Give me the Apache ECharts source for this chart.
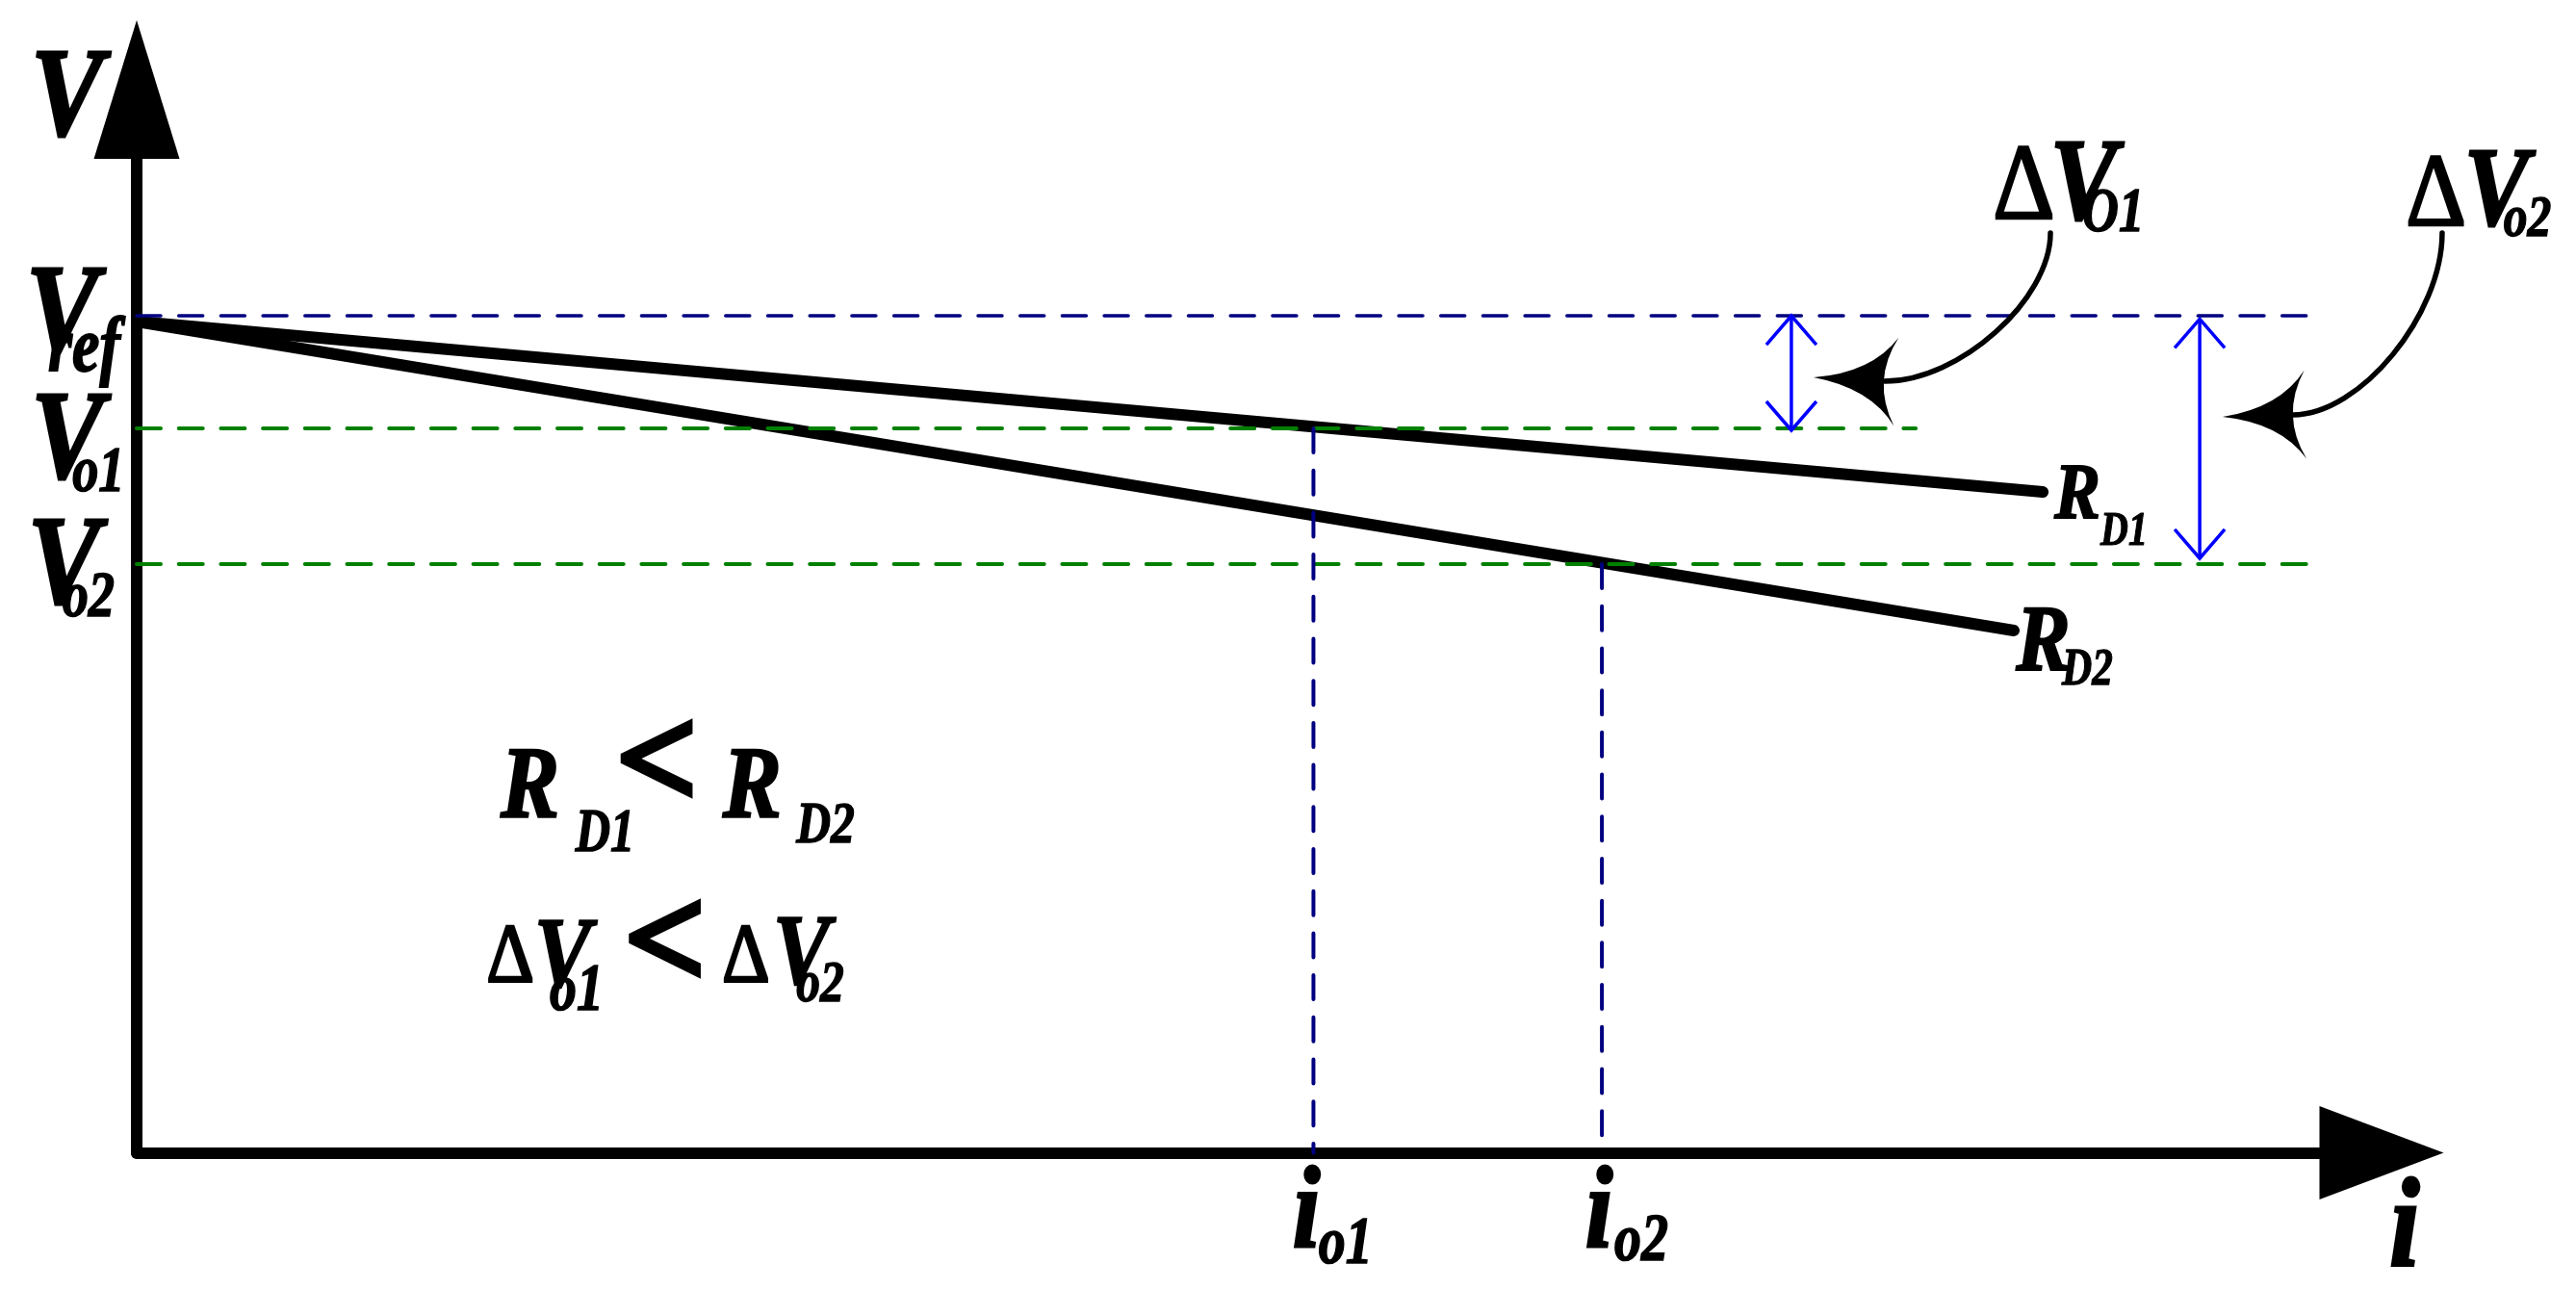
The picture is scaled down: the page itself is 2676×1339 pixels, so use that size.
<!DOCTYPE html>
<html>
<head>
<meta charset="utf-8">
<script src="https://cdn.jsdelivr.net/npm/echarts@6/dist/echarts.min.js"></script>
<style>
html,body{margin:0;padding:0;background:#ffffff;}
#chart{width:2676px;height:1339px;}
</style>
</head>
<body>
<div id="chart"></div>
<script>
// ---------- values (arbitrary units, axes 0..100) ----------
const X_MAX = 100;
const Y_MAX = 100;
const V_REF = 78.72;
const V_O1 = 68.13;
const V_O2 = 55.36;
const I_O1 = 52.42;
const I_O2 = 65.27;

const rd1Points = [[0, 78.18], [84.91, 62.15]];
const rd2Points = [[0, 78.18], [83.62, 49.12]];

const vrefGuide = [[0, V_REF], [97.34, V_REF]];
const vo1Guide = [[0, V_O1], [79.25, V_O1]];
const vo2Guide = [[0, V_O2], [97.34, V_O2]];
const io1Guide = [[I_O1, V_O1], [I_O1, 0]];
const io2Guide = [[I_O2, V_O2], [I_O2, 0]];

// double arrows: [x, top, bottom]
const deltaArrows = [[73.71, 78.72, 67.95], [91.90, 78.41, 55.91]];
// curved pointers: [startX, startY, endX, endY, tipX, tipY]
const curvedArrows = [
  [85.25, 86.51, 77.87, 72.57, 74.70, 72.93],
  [102.70, 86.51, 96.05, 69.40, 92.92, 69.22]
];

// text: [text, x, baseline y, style key]
const labelRows = [
  ['V', -3.11, 95.47, 'V131'],
  ['V', -3.32, 75.10, 'V131'],
  ['ref', -2.34, 73.65, 'S80'],
  ['V', -3.09, 63.24, 'V131'],
  ['o1', -1.70, 62.43, 'S68'],
  ['V', -3.24, 51.47, 'V131'],
  ['o2', -2.15, 50.66, 'S68'],
  ['i', 101.03, -10.82, 'V131'],
  ['i', 52.10, -9.01, 'I120'],
  ['o1', 53.85, -10.19, 'S70'],
  ['i', 65.14, -9.01, 'I120'],
  ['o2', 67.02, -10.00, 'S70'],
  ['R', 86.45, 59.71, 'R83'],
  ['D1', 88.53, 57.45, 'S50'],
  ['R', 84.93, 45.31, 'R98'],
  ['D2', 86.90, 44.32, 'S54'],
  ['Δ', 84.07, 87.78, 'D112'],
  ['V', 86.73, 87.60, 'V121'],
  ['O1', 88.04, 86.87, 'S66'],
  ['Δ', 102.42, 87.14, 'D109'],
  ['V', 105.12, 87.14, 'V117'],
  ['o2', 106.50, 86.42, 'S62'],
  ['R', 17.52, 31.55, 'R106'],
  ['D1', 20.86, 28.57, 'S63'],
  ['<', 23.18, 32.10, 'LT150'],
  ['R', 27.42, 31.55, 'R106'],
  ['D2', 30.68, 29.38, 'S62'],
  ['Δ', 16.64, 16.25, 'D77'],
  ['V', 18.98, 15.62, 'V103'],
  ['o1', 19.60, 13.54, 'S70'],
  ['<', 23.54, 15.17, 'LT150'],
  ['Δ', 27.14, 16.25, 'D77'],
  ['V', 29.61, 15.89, 'V103'],
  ['o2', 30.45, 14.44, 'S62']
];

// ---------- styles ----------
const SERIF = '"Liberation Serif", "Times New Roman", serif';
function bi(size) { return { size: size, style: 'italic', weight: 'bold', sx: 0.86, sw: 0.024 * size }; }
function sub(size) { return { size: size, style: 'italic', weight: 'bold', sx: 0.8, sw: 0.024 * size }; }
function up(size, sx, sw) { return { size: size, style: 'normal', weight: 'normal', sx: sx, sw: sw }; }
const textStyles = {
  V131: bi(131), I120: bi(120), R83: bi(83), R98: bi(98),
  V121: bi(121), V117: bi(117), R106: bi(106), V103: bi(103),
  S80: sub(80), S68: sub(68), S70: sub(70), S50: sub(50), S54: sub(54),
  S66: sub(66), S62: sub(62), S63: sub(63),
  D112: up(112, 0.9, 2.5),
  D109: up(109, 0.9, 2.5),
  D77: up(86, 0.9, 2.5),
  LT150: { size: 150, style: 'normal', weight: 'bold', sx: 1.0, sw: 5 }
};
const TEXT_SHIFT = 7;
const NAVY = '#000080', GREEN = '#008000', BLUE = '#0000ff';
const DASH = [25, 18.7];

function guide(name, data, color, width) {
  return {
    name: name, type: 'line', data: data, symbol: 'none', silent: true, clip: false,
    lineStyle: { color: color, width: width, type: DASH, cap: 'round' }, z: 3
  };
}

const chart = echarts.init(document.getElementById('chart'), null, { renderer: 'canvas' });

chart.setOption({
  animation: false,
  backgroundColor: '#ffffff',
  grid: { left: 142, right: 202, top: 93, bottom: 141.5, containLabel: false, outerBoundsMode: 'none' },
  xAxis: {
    type: 'value', min: 0, max: X_MAX,
    axisLine: { show: true, onZero: false, symbol: ['none', 'triangle'], symbolSize: [97, 129],
      lineStyle: { color: '#000', width: 12, cap: 'round' } },
    axisTick: { show: false }, axisLabel: { show: false }, splitLine: { show: false }
  },
  yAxis: {
    type: 'value', min: 0, max: Y_MAX,
    axisLine: { show: true, onZero: false, symbol: ['none', 'triangle'], symbolSize: [89, 144],
      lineStyle: { color: '#000', width: 12, cap: 'round' } },
    axisTick: { show: false }, axisLabel: { show: false }, splitLine: { show: false }
  },
  series: [
    { name: 'RD1', type: 'line', data: rd1Points, symbol: 'none', silent: true, clip: false,
      lineStyle: { color: '#000', width: 12, cap: 'round' }, z: 2 },
    { name: 'RD2', type: 'line', data: rd2Points, symbol: 'none', silent: true, clip: false,
      lineStyle: { color: '#000', width: 12, cap: 'round' }, z: 2 },
    guide('Vref', vrefGuide, NAVY, 3.5),
    guide('Vo1', vo1Guide, GREEN, 4),
    guide('Vo2', vo2Guide, GREEN, 4),
    guide('io1', io1Guide, NAVY, 4),
    guide('io2', io2Guide, NAVY, 4),
    {
      name: 'deltaArrows', type: 'custom', coordinateSystem: 'cartesian2d', silent: true, z: 4,
      data: deltaArrows,
      renderItem: function (params, api) {
        const x = api.value(0);
        const pt = api.coord([x, api.value(1)]);
        const pb = api.coord([x, api.value(2)]);
        const s = { stroke: BLUE, lineWidth: 3.5, fill: 'none' };
        const ax = 26, ay = 30;
        return {
          type: 'group',
          children: [
            { type: 'line', shape: { x1: pt[0], y1: pt[1], x2: pb[0], y2: pb[1] }, style: s },
            { type: 'polyline', shape: { points: [[pt[0] - ax, pt[1] + ay], [pt[0], pt[1]], [pt[0] + ax, pt[1] + ay]] }, style: s },
            { type: 'polyline', shape: { points: [[pb[0] - ax, pb[1] - ay], [pb[0], pb[1]], [pb[0] + ax, pb[1] - ay]] }, style: s }
          ]
        };
      }
    },
    {
      name: 'curvedArrows', type: 'custom', coordinateSystem: 'cartesian2d', silent: true, z: 4,
      data: curvedArrows,
      renderItem: function (params, api) {
        const s = api.coord([api.value(0), api.value(1)]);
        const n = api.coord([api.value(2), api.value(3)]);
        const t = api.coord([api.value(4), api.value(5)]);
        const k = 0.45;
        let dx = t[0] - n[0], dy = t[1] - n[1];
        const len = Math.sqrt(dx * dx + dy * dy) || 1;
        const u = [dx / len, dy / len];
        const w = [-u[1], u[0]];
        function tr(a, b) {
          return (t[0] - a * u[0] + b * w[0]).toFixed(2) + ',' + (t[1] - a * u[1] + b * w[1]).toFixed(2);
        }
        const head = 'M' + tr(0, 0) +
          ' Q' + tr(60, -8) + ' ' + tr(86, -46) +
          ' Q' + tr(60, 0) + ' ' + tr(86, 46) +
          ' Q' + tr(60, 8) + ' ' + tr(0, 0) + ' Z';
        return {
          type: 'group',
          children: [
            { type: 'bezierCurve',
              shape: { x1: s[0], y1: s[1], cpx1: s[0], cpy1: s[1] + k * (n[1] - s[1]),
                       cpx2: n[0] + k * (s[0] - n[0]), cpy2: n[1], x2: n[0], y2: n[1] },
              style: { stroke: '#000', lineWidth: 5.5, fill: 'none', lineCap: 'round' } },
            { type: 'path', shape: { pathData: head }, style: { fill: '#000', stroke: 'none' } }
          ]
        };
      }
    },
    {
      name: 'labels', type: 'custom', coordinateSystem: 'cartesian2d', silent: true, z: 5,
      data: labelRows.map(function (r, i) { return [r[1], r[2], i]; }),
      renderItem: function (params, api) {
        const row = labelRows[api.value(2)];
        const st = textStyles[row[3]];
        const p = api.coord([api.value(0), api.value(1)]);
        return {
          type: 'text',
          x: p[0],
          y: p[1] - 0.3375 * st.size + TEXT_SHIFT,
          scaleX: st.sx,
          style: {
            text: row[0],
            fill: '#000',
            stroke: '#000',
            lineWidth: st.sw,
            lineJoin: 'round',
            font: st.style + ' ' + st.weight + ' ' + st.size + 'px ' + SERIF,
            textAlign: 'center', textVerticalAlign: 'middle',
            align: 'center', verticalAlign: 'middle'
          }
        };
      }
    }
  ]
});
</script>
</body>
</html>
